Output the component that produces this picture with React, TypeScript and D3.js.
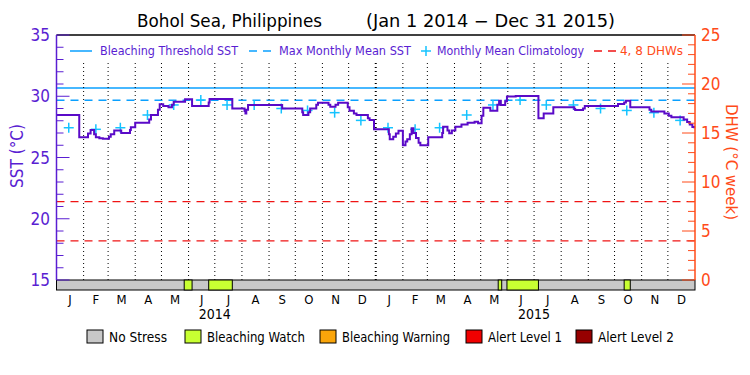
import React from 'react';
import * as d3 from 'd3';

// SST step series (start date, value)
const sstSeries: [string, number][] = [
  ['2014-01-01', 28.47], ['2014-01-27', 26.65], ['2014-02-06', 26.95], ['2014-02-09', 27.24],
  ['2014-02-13', 26.9], ['2014-02-15', 26.65], ['2014-02-19', 26.58], ['2014-02-23', 26.53],
  ['2014-03-02', 26.7], ['2014-03-04', 26.9], ['2014-03-08', 27.2], ['2014-03-16', 27.0],
  ['2014-03-26', 27.25], ['2014-03-27', 27.46], ['2014-04-01', 27.84], ['2014-04-17', 28.1],
  ['2014-04-19', 28.47], ['2014-04-27', 28.9], ['2014-04-29', 29.34], ['2014-05-03', 29.2],
  ['2014-05-09', 29.1], ['2014-05-13', 29.3], ['2014-05-15', 29.56], ['2014-05-28', 29.75],
  ['2014-06-05', 29.2], ['2014-06-24', 29.5], ['2014-06-25', 29.78], ['2014-07-21', 29.0],
  ['2014-08-04', 28.8], ['2014-08-05', 28.6], ['2014-08-06', 28.9], ['2014-08-08', 29.29],
  ['2014-09-16', 29.0], ['2014-10-09', 28.7], ['2014-10-10', 28.47], ['2014-10-16', 28.7],
  ['2014-10-18', 29.0], ['2014-10-25', 29.3], ['2014-10-27', 29.47], ['2014-11-08', 29.3],
  ['2014-11-10', 29.15], ['2014-11-16', 29.3], ['2014-11-19', 29.47], ['2014-11-30', 29.1],
  ['2014-12-02', 28.82], ['2014-12-07', 28.6], ['2014-12-10', 28.47], ['2014-12-23', 28.2],
  ['2014-12-25', 28.06], ['2014-12-30', 27.3],
  ['2015-01-16', 26.9], ['2015-01-17', 26.48], ['2015-01-21', 26.7], ['2015-01-24', 26.95],
  ['2015-01-27', 27.19], ['2015-02-01', 26.0], ['2015-02-04', 26.3], ['2015-02-06', 26.48],
  ['2015-02-09', 26.9], ['2015-02-11', 27.38], ['2015-02-13', 27.0], ['2015-02-16', 26.6],
  ['2015-02-19', 26.2], ['2015-02-21', 26.0], ['2015-03-02', 26.65], ['2015-03-18', 27.0],
  ['2015-03-19', 27.52], ['2015-03-24', 27.2], ['2015-03-26', 26.98], ['2015-03-29', 27.2],
  ['2015-04-02', 27.52], ['2015-04-09', 27.7], ['2015-04-16', 27.84], ['2015-04-24', 27.92],
  ['2015-04-28', 27.8], ['2015-05-02', 28.4], ['2015-05-04', 29.07], ['2015-05-12', 28.82],
  ['2015-05-20', 29.3], ['2015-05-22', 29.63], ['2015-05-24', 29.29], ['2015-05-29', 29.6],
  ['2015-05-31', 29.97], ['2015-06-10', 30.02], ['2015-07-06', 28.2], ['2015-07-12', 28.6],
  ['2015-07-23', 29.1], ['2015-08-16', 28.95], ['2015-08-17', 28.88], ['2015-08-26', 29.0],
  ['2015-08-28', 29.2], ['2015-10-05', 29.37], ['2015-10-12', 29.5], ['2015-10-14', 29.64],
  ['2015-10-19', 29.1], ['2015-11-10', 28.9], ['2015-11-12', 28.75], ['2015-11-27', 28.6],
  ['2015-12-02', 28.4], ['2015-12-05', 28.28], ['2015-12-19', 28.1], ['2015-12-23', 27.9],
  ['2015-12-26', 27.7], ['2015-12-29', 27.5], ['2015-12-31', 27.38],
];

const climValues = [27.43, 27.3, 27.43, 28.47, 29.29, 29.69, 29.29, 29.29, 29.0, 28.84, 28.66, 28.03];
const years = [2014, 2015];
const monthLetters = ['J', 'F', 'M', 'A', 'M', 'J', 'J', 'A', 'S', 'O', 'N', 'D'];
const mmm = 29.67;
const threshold = mmm + 1;
const dhwLevels = [4, 8];

// stress level periods: [start, end, level]
const stressPeriods: [string, string, number][] = [
  ['2014-05-27', '2014-06-05', 1],
  ['2014-06-24', '2014-07-21', 1],
  ['2015-05-21', '2015-05-25', 1],
  ['2015-05-31', '2015-07-06', 1],
  ['2015-10-12', '2015-10-19', 1],
];
const stressNames = ['No Stress', 'Bleaching Watch', 'Bleaching Warning', 'Alert Level 1', 'Alert Level 2'];
const stressColors = ['#c8c8c8', '#c8ff32', '#faa50a', '#f00000', '#960000'];

const PURPLE = '#5a1ed2';
const LINE = '#5a0ac8';
const BLUE = '#0aa0ff';
const CYAN = '#14c3ff';
const ORANGE = '#ff4b19';
const RED = '#f01414';
const FONT = '"DejaVu Sans Condensed", "Liberation Sans", sans-serif';

export default function App() {
  const W = 750, H = 375;
  const left = 56.5, right = 695, top = 35, bottom = 280, barH = 10;
  const parse = d3.utcParse('%Y-%m-%d');

  const x = d3.scaleUtc()
    .domain([Date.UTC(2014, 0, 1), Date.UTC(2016, 0, 1)])
    .range([left, right]);
  const y = d3.scaleLinear().domain([15, 35]).range([bottom, top]);
  const yR = d3.scaleLinear().domain([0, 25]).range([bottom, top]);

  const line = d3.line<[string, number]>()
    .x(d => x(parse(d[0])!))
    .y(d => y(d[1]))
    .curve(d3.curveStepAfter);

  const months = d3.utcMonths(new Date(Date.UTC(2014, 0, 1)), new Date(Date.UTC(2016, 0, 1)));
  const boundaries = months.slice(1);
  const monthCenter = (m: Date) => (x(m) + x(d3.utcMonth.offset(m, 1))) / 2;

  const leftTicks = d3.range(15, 36);
  const rightTicks = d3.range(0, 26);

  const legendX = [87, 185, 320, 466, 576];
  const legendW = [58, 98, 108, 74, 76];

  return (
    <svg width={W} height={H} style={{ position: 'absolute', left: 0, top: 0, background: '#fff' }} fontFamily={FONT}>
      {/* title */}
      <text x={137} y={27} fontSize={17} textLength={185} lengthAdjust="spacingAndGlyphs" fill="#000">Bohol Sea, Philippines</text>
      <text x={366} y={27} fontSize={17} textLength={249} lengthAdjust="spacingAndGlyphs" fill="#000">(Jan 1 2014 − Dec 31 2015)</text>

      {/* DHW reference lines */}
      {dhwLevels.map(l => (
        <line key={l} x1={left} x2={right} y1={yR(l)} y2={yR(l)} stroke={RED} strokeWidth={1.3} strokeDasharray="8,6" />
      ))}
      {/* threshold and MMM */}
      <line x1={left} x2={right} y1={y(threshold)} y2={y(threshold)} stroke={BLUE} strokeWidth={1.5} />
      <line x1={left} x2={right} y1={y(mmm)} y2={y(mmm)} stroke={BLUE} strokeWidth={1.5} strokeDasharray="8,6" />

      {/* month dotted lines */}
      {boundaries.map((m, i) => (
        <line key={i} x1={x(m)} x2={x(m)} y1={63} y2={bottom} stroke="#000"
          strokeWidth={m.getUTCMonth() === 0 ? 2 : 1} strokeDasharray="1,3" />
      ))}

      {/* climatology */}
      {years.flatMap(yr => climValues.map((v, i) => {
        const cx = x(Date.UTC(yr, i, 15));
        const cy = y(v);
        return (
          <g key={`${yr}-${i}`} stroke={CYAN} strokeWidth={1.5}>
            <line x1={cx - 5} x2={cx + 5} y1={cy} y2={cy} />
            <line x1={cx} x2={cx} y1={cy - 5} y2={cy + 5} />
          </g>
        );
      }))}

      {/* SST */}
      <path d={line(sstSeries) ?? ''} fill="none" stroke={LINE} strokeWidth={2} />

      {/* stress bar */}
      <rect x={left} y={bottom} width={right - left} height={barH} fill={stressColors[0]} stroke="#000" strokeWidth={1} />
      {stressPeriods.map(([s, e, lvl], i) => (
        <rect key={i} x={x(parse(s)!)} y={bottom} width={x(parse(e)!) - x(parse(s)!)} height={barH}
          fill={stressColors[lvl]} stroke="#000" strokeWidth={1} />
      ))}

      {/* frame */}
      <line x1={left} x2={right} y1={top} y2={top} stroke="#000" strokeWidth={1.5} />
      <line x1={left} x2={left} y1={top} y2={bottom} stroke={PURPLE} strokeWidth={1.5} />
      <line x1={right} x2={right} y1={top} y2={bottom} stroke={ORANGE} strokeWidth={1.5} />

      {/* left axis */}
      {leftTicks.map(t => (
        <line key={t} x1={left} x2={left + (t % 5 === 0 ? 13 : 7)} y1={y(t)} y2={y(t)} stroke={PURPLE} strokeWidth={1} />
      ))}
      {leftTicks.filter(t => t % 5 === 0).map(t => (
        <text key={t} x={50} y={y(t) + 6} fontSize={17} textAnchor="end" fill={PURPLE}>{t}</text>
      ))}
      <text transform={`translate(23,156) rotate(-90)`} fontSize={17} textAnchor="middle" fill={PURPLE}>SST (°C)</text>

      {/* right axis */}
      {rightTicks.map(t => (
        <line key={t} x1={right} x2={right - (t % 5 === 0 ? 13 : 7)} y1={yR(t)} y2={yR(t)} stroke={ORANGE} strokeWidth={1} />
      ))}
      {rightTicks.filter(t => t % 5 === 0).map(t => (
        <text key={t} x={701} y={yR(t) + 6} fontSize={17} textAnchor="start" fill={ORANGE}>{t}</text>
      ))}
      <text transform={`translate(726,162) rotate(90)`} fontSize={16} textAnchor="middle"
        textLength={116} lengthAdjust="spacingAndGlyphs" fill={ORANGE}>DHW (°C week)</text>

      {/* legend in plot */}
      <g fontSize={12}>
        <line x1={70} x2={92} y1={51} y2={51} stroke={BLUE} strokeWidth={1.5} />
        <text x={100} y={55} textLength={138} lengthAdjust="spacingAndGlyphs" fill={PURPLE}>Bleaching Threshold SST</text>
        <line x1={249} x2={274} y1={51} y2={51} stroke={BLUE} strokeWidth={1.5} strokeDasharray="8,6" />
        <text x={279} y={55} textLength={132} lengthAdjust="spacingAndGlyphs" fill={PURPLE}>Max Monthly Mean SST</text>
        <g stroke={CYAN} strokeWidth={1.5}>
          <line x1={421} x2={431} y1={51} y2={51} />
          <line x1={426} x2={426} y1={46} y2={56} />
        </g>
        <text x={437} y={55} textLength={147} lengthAdjust="spacingAndGlyphs" fill={PURPLE}>Monthly Mean Climatology</text>
        <line x1={594} x2={616} y1={51} y2={51} stroke={RED} strokeWidth={1.3} strokeDasharray="8,6" />
        <text x={620} y={55} textLength={63} lengthAdjust="spacingAndGlyphs" fill={ORANGE}>4, 8 DHWs</text>
      </g>

      {/* month labels */}
      {months.map((m, i) => (
        <text key={i} x={monthCenter(m)} y={304} fontSize={13} textAnchor="middle" fill="#000">
          {monthLetters[m.getUTCMonth()]}
        </text>
      ))}
      {years.map(yr => (
        <text key={yr} x={x(Date.UTC(yr, 6, 1))} y={319} fontSize={14} textAnchor="middle" fill="#000">{yr}</text>
      ))}

      {/* stress legend */}
      {stressNames.map((n, i) => (
        <g key={n}>
          <rect x={legendX[i]} y={330} width={16} height={13} fill={stressColors[i]} stroke="#000" strokeWidth={1} />
          <text x={legendX[i] + 22} y={342} fontSize={14} textLength={legendW[i]} lengthAdjust="spacingAndGlyphs" fill="#000">{n}</text>
        </g>
      ))}
    </svg>
  );
}
